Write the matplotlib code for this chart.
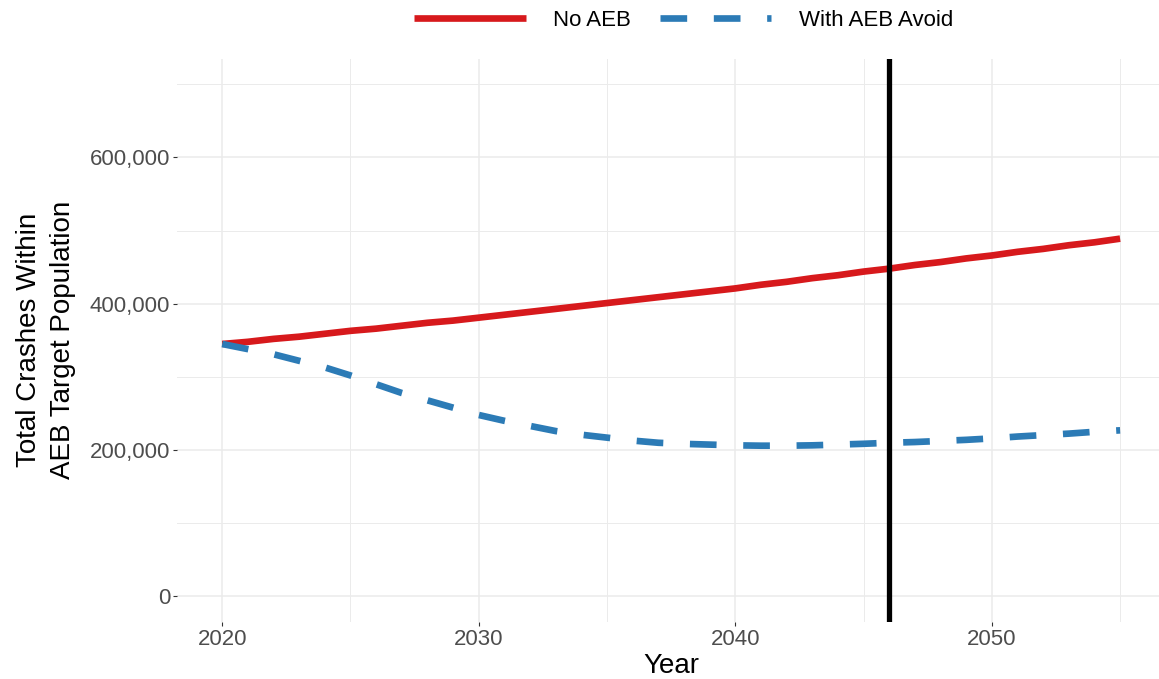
import matplotlib
matplotlib.use('Agg')
import matplotlib.pyplot as plt
from matplotlib.ticker import FuncFormatter, MultipleLocator

plt.rcParams['font.family'] = ['Liberation Sans', 'DejaVu Sans']

years = list(range(2020, 2056))
no_aeb = [345000, 348000, 352000, 355000, 359000, 363000, 366000, 370000, 374000, 377000,
          381000, 385000, 389000, 393000, 397000, 401000, 405000, 409000, 413000, 417000,
          421000, 426000, 430000, 435000, 439000, 444000, 448000, 453000, 457000, 462000,
          466000, 471000, 475000, 480000, 484000, 489000]
with_aeb = [345000, 338000, 331000, 322000, 313000, 302000, 290000, 278000, 268000, 258000,
            248000, 240000, 233000, 226000, 221000, 217000, 213000, 210000, 208500, 207500,
            206500, 206000, 206000, 206500, 207500, 208600, 210000, 211000, 212500, 214000,
            216000, 218500, 220500, 222500, 225000, 227000]
cutoff_year = 2046

RED = '#d7191c'
BLUE = '#2c7bb6'
GRID = '#ebebeb'

W, H = 1159, 679
fig = plt.figure(figsize=(W / 100, H / 100), dpi=100)
# panel runs a little past the right edge, as in the original export
ax = fig.add_axes([177.3 / W, 1 - 622 / H, (1165 - 177.3) / W, (622 - 58.7) / H])

ax.plot(years, no_aeb, color=RED, lw=4.8, solid_capstyle='butt', label='No AEB', zorder=3)
ax.plot(years, with_aeb, color=BLUE, lw=4.8, dashes=(4, 4), dash_capstyle='butt',
        label='With AEB Avoid', zorder=4)
ax.axvline(cutoff_year, color='black', lw=3.8, zorder=5)

ax.set_xlim(2018.25, 2056.75)
ax.set_ylim(-35000, 735000)
ax.xaxis.set_major_locator(MultipleLocator(10))
ax.xaxis.set_minor_locator(MultipleLocator(5))
ax.yaxis.set_major_locator(MultipleLocator(200000))
ax.yaxis.set_minor_locator(MultipleLocator(100000))
ax.yaxis.set_major_formatter(FuncFormatter(lambda v, p: f'{int(v):,}'))

ax.grid(which='major', color=GRID, lw=1.1)
ax.grid(which='minor', color=GRID, lw=0.7)
ax.set_axisbelow(True)
for s in ax.spines.values():
    s.set_visible(False)

ax.tick_params(which='major', length=3, width=0.8, color='#333333', pad=2,
               labelsize=16, labelcolor='#4d4d4d')
ax.tick_params(which='minor', length=0)

ax.set_xlabel('Year', fontsize=20, labelpad=2)
ax.set_ylabel('Total Crashes Within\nAEB Target Population', fontsize=20,
              labelpad=10, linespacing=1.4)

fig.legend(loc='center', bbox_to_anchor=(0.590, 1 - 20 / H), ncol=2, frameon=False,
           fontsize=16, handlelength=5.0, handletextpad=1.25, columnspacing=1.3)

fig.savefig('out.png', dpi=100)
